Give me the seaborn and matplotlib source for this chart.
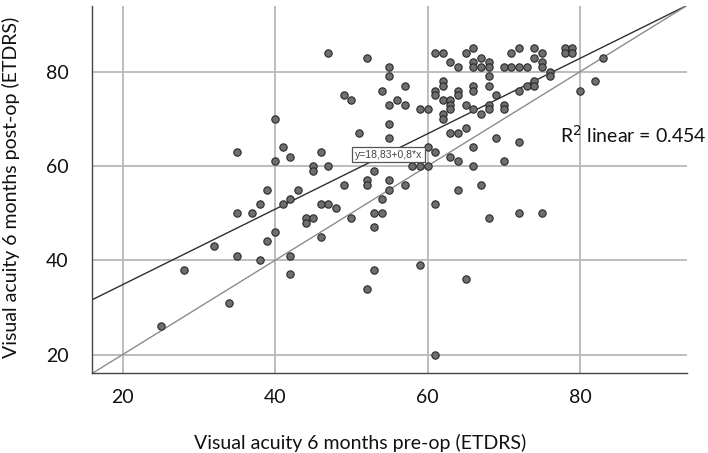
import matplotlib
matplotlib.use("Agg")
import matplotlib.pyplot as plt
import seaborn as sns
import pandas as pd

# visual acuity (ETDRS letters)
pre_op = [25, 28, 32, 34, 35, 35, 35, 37, 38, 38, 39, 39, 40, 40, 40, 41, 41,
          42, 42, 42, 42, 43, 44, 44, 45, 45, 45, 46, 46, 46, 47, 47, 47, 48,
          49, 49, 50, 50, 51, 52, 52, 52, 52, 53, 53, 53, 53, 54, 54, 54,
          55, 55, 55, 55, 55, 55, 55, 56, 57, 57, 57, 58, 59, 59, 59, 60, 60, 60,
          61, 61, 61, 61, 61, 61, 62, 62, 62, 62, 62, 62, 63, 63, 63, 63, 63, 63,
          64, 64, 64, 64, 64, 64, 65, 65, 65, 65, 66, 66, 66, 66, 66, 66, 66, 66,
          67, 67, 67, 67, 68, 68, 68, 68, 68, 68, 68, 69, 69, 70, 70, 70, 70,
          71, 71, 72, 72, 72, 72, 72, 73, 73, 74, 74, 74, 74, 75, 75, 75, 75,
          76, 76, 78, 78, 79, 79, 80, 82, 83]
post_op = [26, 38, 43, 31, 63, 50, 41, 50, 52, 40, 55, 44, 70, 61, 46, 64, 52,
           62, 53, 41, 37, 55, 49, 48, 60, 59, 49, 63, 52, 45, 84, 60, 52, 51,
           75, 56, 74, 49, 67, 83, 57, 56, 34, 59, 50, 47, 38, 76, 53, 50,
           81, 79, 73, 69, 66, 57, 55, 74, 77, 73, 56, 60, 72, 60, 39, 72, 64, 60,
           84, 76, 75, 63, 52, 20, 84, 78, 77, 74, 71, 70, 82, 74, 73, 72, 67, 62,
           81, 76, 75, 67, 61, 55, 84, 73, 68, 36, 85, 82, 81, 77, 76, 72, 64, 60,
           83, 81, 71, 56, 82, 81, 79, 77, 73, 72, 49, 75, 66, 81, 73, 72, 61,
           84, 81, 85, 81, 76, 65, 50, 81, 77, 85, 83, 78, 77, 84, 82, 81, 50,
           80, 79, 85, 84, 85, 84, 76, 78, 83]

fit_intercept = 18.83
fit_slope = 0.8
r_squared = 0.454
ticks = [20, 40, 60, 80]

df = pd.DataFrame({"pre": pre_op, "post": post_op})

sns.set_theme(style="white")
plt.rcParams["font.family"] = ["Lato", "DejaVu Sans"]

fig = plt.figure(figsize=(7.08, 4.53), dpi=100)
ax = fig.add_axes([0.130, 0.1755, 0.840, 0.812])

ax.set_xlim(16, 94)
ax.set_ylim(16, 94)
ax.set_xticks(ticks)
ax.set_yticks(ticks)
ax.grid(True, color="#bdbdbd", linewidth=1.4)
ax.set_axisbelow(True)

# fitted line and y = x reference line
ax.axline((0, fit_intercept), slope=fit_slope, color="#2f2f2f", linewidth=1.0, zorder=2)
ax.axline((0, 0), slope=1, color="#8c8c8c", linewidth=1.0, zorder=2)

sns.scatterplot(data=df, x="pre", y="post", ax=ax, s=28, color="#6e6e6e",
                edgecolor="#2a2a2a", linewidth=0.8, zorder=3, legend=False)

ax.text(54.9, 62.4, f"y={fit_intercept:.2f}+{fit_slope}*x".replace(".", ","),
        fontsize=7.5, family=["Liberation Sans", "DejaVu Sans"], color="#444444",
        ha="center", va="center", zorder=4,
        bbox=dict(boxstyle="square,pad=0.25", facecolor="white", edgecolor="#555555", linewidth=0.9))
ax.text(77.4, 66.6, f"R$^2$ linear = {r_squared}", fontsize=14, color="#111111",
        ha="left", va="center", clip_on=False)

for s in ["top", "right"]:
    ax.spines[s].set_visible(False)
for s in ["left", "bottom"]:
    ax.spines[s].set_color("#444444")
    ax.spines[s].set_linewidth(1.0)

ax.tick_params(length=0, labelsize=14, colors="#111111")
ax.tick_params(axis="y", pad=17)
ax.tick_params(axis="x", pad=11)
ax.set_xlabel("Visual acuity 6 months pre-op (ETDRS)", fontsize=14, color="#111111")
ax.set_ylabel("Visual acuity 6 months post-op (ETDRS)", fontsize=14, color="#111111")
ax.xaxis.set_label_coords(0.45, -0.189)
ax.xaxis.label.set_va("center")
ax.yaxis.set_label_coords(-0.136, 0.507)
ax.yaxis.label.set_va("center")

fig.savefig("out.png", dpi=100)
